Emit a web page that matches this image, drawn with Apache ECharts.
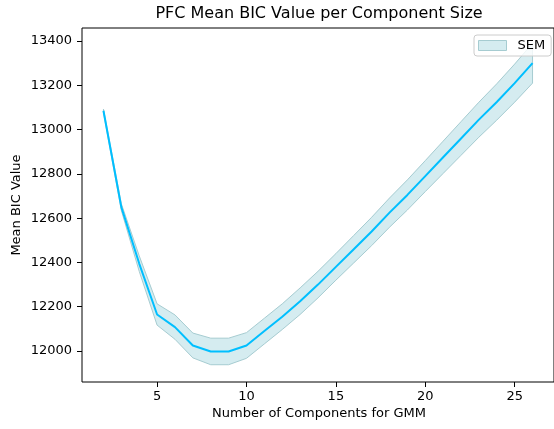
<!DOCTYPE html>
<html>
<head>
<meta charset="utf-8">
<script src="https://cdn.jsdelivr.net/npm/echarts@6/dist/echarts.min.js"></script>
<style>
  html, body { margin: 0; padding: 0; background: #fff; }
  #chart { width: 554px; height: 429px; }
</style>
</head>
<body>
<div id="chart"></div>
<script>
// Number of GMM components evaluated
const components = [2, 3, 4, 5, 6, 7, 8, 9, 10, 11, 12, 13, 14, 15, 16, 17, 18, 19, 20, 21, 22, 23, 24, 25, 26];
// Mean BIC value for each component count
const meanBic = [13085, 12650, 12395, 12165, 12108, 12025, 11998, 11998, 12025, 12090, 12155, 12225, 12300,
                 12380, 12460, 12540, 12625, 12705, 12790, 12875, 12960, 13045, 13125, 13210, 13300];
// Standard error of the mean of the BIC value
const semBic = [8, 15, 35, 48, 55, 56, 60, 60, 58, 58, 58, 60, 60, 60, 62, 64, 66, 68, 70, 73, 76, 79, 82, 86, 90];
// Tick labels
const xTicks = [5, 10, 15, 20, 25];
const yTicks = [12000, 12200, 12400, 12600, 12800, 13000, 13200, 13400];

const FONT = 'DejaVu Sans';
const bandFill = '#d5ecf0';
const bandEdge = '#a6ccd1';

// [x, mean - sem, mean + sem] rows for the shaded band
const bandRows = components.map((c, i) => [c, meanBic[i] - semBic[i], meanBic[i] + semBic[i]]);
const meanPts = components.map((c, i) => [c, meanBic[i]]);

const chart = echarts.init(document.getElementById('chart'), null, { renderer: 'canvas' });

const axisText = { color: '#000', fontFamily: FONT, fontSize: 13 };

// Draws the whole SEM band as one polygon: upper edge left-to-right, lower edge back.
function renderBand(params, api) {
  if (params.dataIndex !== 0) return null;
  const upper = bandRows.map(r => api.coord([r[0], r[2]]));
  const lower = bandRows.map(r => api.coord([r[0], r[1]])).reverse();
  return {
    type: 'polygon',
    shape: { points: upper.concat(lower) },
    style: { fill: bandFill, stroke: bandEdge, lineWidth: 1 },
    silent: true
  };
}

chart.setOption({
  animation: false,
  backgroundColor: '#fff',
  grid: {
    left: 82, right: -2, top: 28, bottom: 47,
    show: true, borderColor: '#000', borderWidth: 1, backgroundColor: 'transparent'
  },
  xAxis: {
    type: 'value', min: 0.8, max: 27.2,
    axisLine: { show: false },
    splitLine: { show: false },
    axisTick: { show: true, length: 5, lineStyle: { color: '#000', width: 1 }, customValues: xTicks },
    axisLabel: Object.assign({ margin: 8, customValues: xTicks, formatter: v => String(v) }, axisText)
  },
  yAxis: {
    type: 'value', min: 11860, max: 13459,
    axisLine: { show: false },
    splitLine: { show: false },
    axisTick: { show: true, length: 5, lineStyle: { color: '#000', width: 1 }, customValues: yTicks },
    axisLabel: Object.assign({ margin: 10, customValues: yTicks, formatter: v => String(v) }, axisText)
  },
  legend: {
    data: [{ name: 'SEM', icon: 'rect', itemStyle: { color: bandFill, borderColor: bandEdge, borderWidth: 1 } }],
    left: 474, top: 35,
    itemWidth: 28, itemHeight: 10,
    padding: [4, 6, 4, 4],
    backgroundColor: 'rgba(255,255,255,0.8)',
    borderColor: '#cccccc', borderWidth: 1, borderRadius: 3,
    textStyle: { color: '#000', fontFamily: FONT, fontSize: 13, padding: [0, 0, 0, 6] },
    selectedMode: false
  },
  graphic: [
    { type: 'text', x: 319, y: 14,
      style: { text: 'PFC Mean BIC Value per Component Size', font: '16px "DejaVu Sans"', fill: '#000',
               textAlign: 'center', textVerticalAlign: 'middle' } },
    { type: 'text', x: 319, y: 414,
      style: { text: 'Number of Components for GMM', font: '13px "DejaVu Sans"', fill: '#000',
               textAlign: 'center', textVerticalAlign: 'middle' } },
    { type: 'text', x: 17, y: 205, rotation: Math.PI / 2,
      style: { text: 'Mean BIC Value', font: '13px "DejaVu Sans"', fill: '#000',
               textAlign: 'center', textVerticalAlign: 'middle' } }
  ],
  series: [
    {
      name: 'SEM', type: 'custom', data: bandRows,
      encode: { x: 0, y: [1, 2] },
      renderItem: renderBand,
      itemStyle: { color: bandFill },
      silent: true, z: 2
    },
    {
      name: 'mean', type: 'line', data: meanPts,
      symbol: 'none', silent: true,
      lineStyle: { color: '#00bfff', width: 2 },
      z: 5
    }
  ]
});
</script>
</body>
</html>
